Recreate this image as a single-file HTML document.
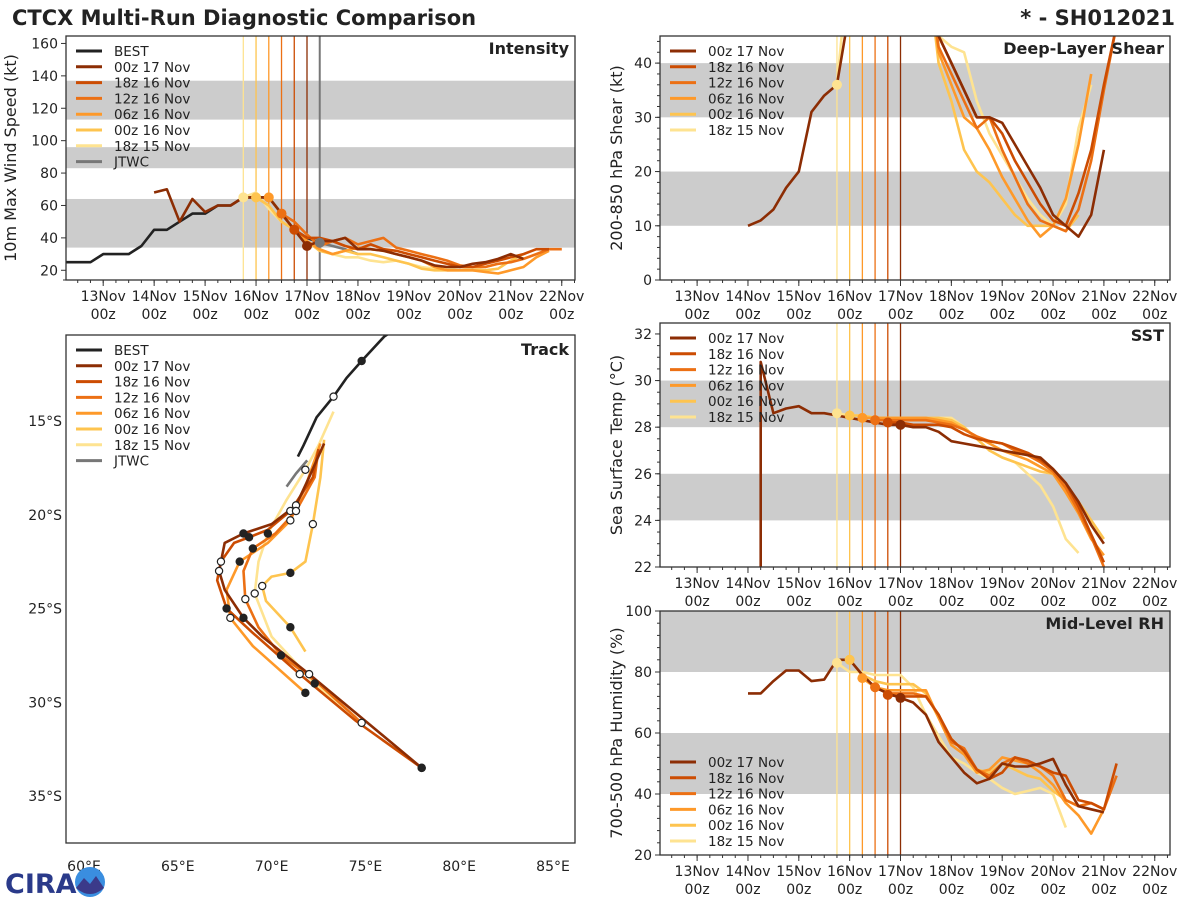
<!DOCTYPE html>
<html><head><meta charset="utf-8">
<style>
html,body{margin:0;padding:0;background:#fff;}
svg{display:block;font-family:"DejaVu Sans","Liberation Sans",sans-serif;}
</style></head>
<body>
<svg id="fig" width="1200" height="900" viewBox="0 0 1200 900">
<defs>
<clipPath id="cpI"><rect x="66" y="36" width="509" height="244"/></clipPath>
<clipPath id="cpS"><rect x="660" y="36" width="510" height="244"/></clipPath>
<clipPath id="cpT"><rect x="660" y="323" width="510" height="244"/></clipPath>
<clipPath id="cpR"><rect x="660" y="611" width="510" height="244"/></clipPath>
<clipPath id="cpK"><rect x="66" y="335" width="509" height="508"/></clipPath>
</defs>
<text x="12" y="25" font-size="21" font-weight="bold" fill="#222">CTCX Multi-Run Diagnostic Comparison</text>
<text x="1175" y="25" font-size="21" font-weight="bold" fill="#222" text-anchor="end">* - SH012021</text>
<g id="root"></g>
</svg>
<script>
// ---------- data ----------
const runNames = ["00z 17 Nov","18z 16 Nov","12z 16 Nov","06z 16 Nov","00z 16 Nov","18z 15 Nov"];
const runInit = [5.0,4.75,4.5,4.25,4.0,3.75];
const dayLabels = ["13Nov","14Nov","15Nov","16Nov","17Nov","18Nov","19Nov","20Nov","21Nov","22Nov"];
const dayTicks = [1,2,3,4,5,6,7,8,9,10];

const bestStart = 0.25;
const bestVmax = [25,25,25,30,30,30,35,45,45,50,55,55,60,60,65,65,65,55,45,40,37];
const jtwcStart = 5.25;
const jtwcVmax = [37,35,33,30];

const vmaxStarts = [2.0,4.75,4.5,4.25,4.0,3.75];
const vmax0 = [68,70,50,64,56,60,60,65,65,65,55,45,35,38,38,40,33,33,32,30,28,26,23,22,22,24,25,27,30,27];
const vmax1 = [45,40,40,38,35,33,36,33,32,30,28,26,24,22,22,24,26,28,30,33,33];
const vmax2 = [55,50,42,35,38,40,36,38,40,34,32,30,28,26,23,22,22,24,25,27,30,33,33];
const vmax3 = [65,55,45,38,33,30,32,34,33,32,30,28,26,22,20,20,20,19,18,20,22,28,32];
const vmax4 = [65,60,50,45,38,32,30,32,30,30,28,26,24,21,20,20,20,20,20,21,26,30];
const vmax5 = [65,68,58,50,45,38,32,30,28,28,26,25,26,24,22,21,21,22,21,22,24];

const shearStarts = [2.0,4.75,4.5,4.25,4.0,3.75];
const shear0 = [10,11,13,17,20,31,34,36,50,60,60,60,60,60,55,45,40,35,30,30,29,25,21,17,12,10,8,12,24];
const shear1 = [60,60,60,60,45,40,35,30,30,27,22,18,14,11,10,16,24,36,47];
const shear2 = [60,60,60,60,60,43,38,33,28,30,24,19,14,11,10,9,13,22,35,47];
const shear3 = [60,60,60,60,60,60,42,36,30,28,24,19,15,11,8,10,15,25,38];
const shear4 = [60,60,60,60,60,60,60,40,33,24,20,18,15,12,10,10,10,9,12];
const shear5 = [36,60,60,60,60,60,60,60,45,43,42,33,27,23,19,15,12,10,14,28,36];

const sstStarts = [2.25,4.75,4.5,4.25,4.0,3.75];
const sst0 = [30.8,28.6,28.8,28.9,28.6,28.6,28.5,28.4,28.3,28.2,28.1,28.1,28.0,28.0,27.8,27.4,27.3,27.2,27.1,27.0,26.9,26.8,26.7,26.2,25.6,24.8,23.8,23.0];
const sst1 = [28.2,28.2,28.1,28.1,28.1,28.0,27.7,27.5,27.4,27.3,27.1,26.9,26.6,26.2,25.6,24.6,23.4,22.2];
const sst2 = [28.3,28.3,28.3,28.3,28.3,28.2,28.1,27.9,27.6,27.4,27.3,27.0,26.8,26.5,26.1,25.4,24.4,23.3,22.0];
const sst3 = [28.4,28.4,28.4,28.4,28.4,28.4,28.3,28.2,27.9,27.6,27.3,27.0,26.8,26.6,26.3,26.0,25.2,24.3,23.2,22.5];
const sst4 = [28.5,28.5,28.4,28.4,28.4,28.4,28.4,28.4,28.3,28.0,27.5,27.0,26.7,26.5,26.3,26.1,26.0,25.5,24.8,24.0,23.2];
const sst5 = [28.6,28.5,28.5,28.4,28.4,28.4,28.4,28.3,28.4,28.4,28.0,27.5,27.0,26.7,26.5,26.0,25.5,24.6,23.2,22.6];

const rhStarts = [2.0,4.75,4.5,4.25,4.0,3.75];
const rh0 = [73,73,77,80.5,80.5,77,77.5,84,84,79,75,73,71.5,70,66,57,52,47,43.5,45,50,49,49,50,51.5,43,36,35,34];
const rh1 = [72.5,72,72,72,66,58,54,48,45,47,52,51,49,47,46,38,37,35,50];
const rh2 = [75,73,73,73,72,66,57,55,48,46,50,52,50,49,46,38,36,37,35,46];
const rh3 = [78,75,74,74,74,74,65,56,53,47,48,52,51,50,47,43,37,33,27,35];
const rh4 = [84,79,77,76,76,76,73,65,58,54,48,47,50,48,46,45,41,38,36,37];
const rh5 = [83,80,80,79,79,79,75,66,59,52,50,47,45,42,40,41,42,40,29];

const bestLon = [76.6,76.0,74.8,74.0,73.3,72.4,71.7,71.4];
const bestLat = [-10.1,-10.5,-11.8,-12.7,-13.7,-14.8,-16.3,-16.9];
const jtwcLon = [71.9,71.3,70.8];
const jtwcLat = [-17.1,-17.8,-18.5];
const trkLon0 = [72.8,72.0,71.3,70.0,68.5,67.5,67.2,67.5,68.5,69.5,72.0,75.0,78.0];
const trkLat0 = [-16.2,-18.0,-19.5,-20.5,-21.0,-21.5,-23.0,-24.0,-25.5,-26.5,-28.5,-31.0,-33.5];
const trkLon1 = [72.5,72.2,71.0,69.8,68.8,68.0,67.3,67.1,67.6,69.0,71.5,74.5,78.0];
const trkLat1 = [-16.5,-18.0,-19.8,-20.8,-21.2,-21.5,-22.5,-23.5,-25.0,-26.3,-28.5,-31.0,-33.5];
const trkLon2 = [72.5,72.3,71.3,70.2,69.0,68.5,68.6,69.3,70.5,72.5,74.8];
const trkLat2 = [-16.5,-18.0,-19.8,-21.0,-21.8,-23.0,-24.5,-26.0,-27.5,-29.0,-31.1];
const trkLon3 = [72.6,71.8,71.0,69.8,68.3,67.6,67.8,69.0,71.8];
const trkLat3 = [-16.2,-18.5,-20.3,-21.5,-22.5,-24.0,-25.5,-27.0,-29.5];
const trkLon4 = [72.8,72.6,72.2,71.8,71.0,70.0,69.5,69.7,71.0,71.8];
const trkLat4 = [-16.0,-18.0,-20.5,-22.5,-23.1,-23.3,-23.8,-24.6,-26.0,-27.3];
const trkLon5 = [73.3,72.5,71.8,70.8,69.8,69.3,69.1,70.0,72.3,74.5];
const trkLat5 = [-14.5,-16.3,-17.6,-19.2,-21.0,-22.5,-24.2,-26.5,-29.0,-30.8];

const colors = ["#8c2d04","#cc4c02","#ec7014","#fe9929","#fec44f","#fee391"];
// ---------- helpers ----------
const NS="http://www.w3.org/2000/svg";
const root=document.getElementById('root');
function mk(tag,attrs,parent){const e=document.createElementNS(NS,tag);for(const k in attrs)e.setAttribute(k,attrs[k]);(parent||root).appendChild(e);return e;}
function line(x1,y1,x2,y2,st,w,p){return mk('line',{x1:x1,y1:y1,x2:x2,y2:y2,stroke:st,'stroke-width':w},p);}
function txt(x,y,s,size,anchor,p){const t=mk('text',{x:x,y:y,'font-size':size,'text-anchor':anchor||'start',fill:'#222'},p);t.textContent=s;return t;}

function timePanel(P){
  const xs=t=>P.x0+(t-P.t0)/(P.t1-P.t0)*P.w;
  const ys=v=>P.y0+P.h-(v-P.v0)/(P.v1-P.v0)*P.h;
  const g=mk('g',{});
  
  
  P.bands.forEach(b=>{const r=mk('rect',{x:P.x0,y:ys(b[1]),width:P.w,height:ys(b[0])-ys(b[1]),fill:'#cccccc'},g);
    
    });
  runInit.forEach((t,i)=>{const l=line(xs(t),P.y0,xs(t),P.y0+P.h,colors[i],1.3,g);
    
    });
  if(P.jtwcLine){const l=line(xs(5.25),P.y0,xs(5.25),P.y0+P.h,'#777',2,g);
    
    }
  const cg=mk('g',{'clip-path':'url(#'+P.clip+')'},g);
  const series=P.series;
  for(let i=series.length-1;i>=0;i--){
    const s=series[i];
    let pts=s.vals.map((v,k)=>xs(s.start+k*0.25).toFixed(1)+','+ys(v).toFixed(1)).join(' ');
    if(s.dropFrom!==undefined){pts=xs(s.start).toFixed(1)+','+ys(s.dropFrom).toFixed(1)+' '+pts;}
    const pl=mk('polyline',{points:pts,fill:'none',stroke:s.color,'stroke-width':2.6,'stroke-linejoin':'round'},cg);
    
    
  }
  series.forEach(s=>{ if(s.dot){const v=s.vals[s.dotIdx||0];
    if(v>=P.v0&&v<=P.v1){const c=mk('circle',{cx:xs(s.start+(s.dotIdx||0)*0.25),cy:ys(v),r:5,fill:s.color},cg);
    
    }}});
  const fr=mk('rect',{x:P.x0,y:P.y0,width:P.w,height:P.h,fill:'none',stroke:'#333','stroke-width':1.3},g);
  
  
  P.yticks.forEach(v=>{line(P.x0-5,ys(v),P.x0,ys(v),'#333',1,g);
    const t=txt(P.x0-8,ys(v)+5,String(v),14,'end',g);
    
    });
  for(let v=P.v0;v<=P.v1;v+=P.minor){line(P.x0-3,ys(v),P.x0,ys(v),'#333',1,g);}
  for(let t=Math.ceil(P.t0*4)/4;t<=P.t1;t+=0.25){line(xs(t),P.y0+P.h,xs(t),P.y0+P.h+3,'#333',1,g);}
  dayTicks.forEach((t,i)=>{line(xs(t),P.y0+P.h,xs(t),P.y0+P.h+6,'#333',1,g);
    const a=txt(xs(t),P.y0+P.h+21,dayLabels[i],14,'middle',g);
    
    
    const b=txt(xs(t),P.y0+P.h+39,'00z',14,'middle',g);
    
    });
  const yl=txt(0,0,P.ylabel,16,'middle',g);
  yl.setAttribute('transform','translate('+P.ylx+','+(P.y0+P.h/2)+') rotate(-90)');
  
  
  const pt=txt(P.x0+P.w-6,P.y0+18,P.title,16,'end',g);
  pt.setAttribute('font-weight','bold');
  
  
  legend(P.x0+10,P.y0+15+(P.legOff||0),P.legend,g);
}
function legend(x,y,items,g){
  items.forEach((it,i)=>{const yy=y+i*15.8;
    const l=line(x,yy,x+26,yy,it[1],3,g);
    
    
    const t=txt(x+38,yy+5,it[0],13.5,'start',g);
    
    });
}
const runLegend=runNames.map((n,i)=>[n,colors[i]]);
const fullLegend=[["BEST","#222"]].concat(runLegend).concat([["JTWC","#777"]]);
function mkSeries(starts,arrs){return arrs.map((a,i)=>({start:starts[i],vals:a,color:colors[i],name:'run-'+runNames[i].replace(/ /g,'-').toLowerCase(),dot:true,dotIdx:Math.round((runInit[i]-starts[i])/0.25)}));}

const intSeries=mkSeries(vmaxStarts,[vmax0,vmax1,vmax2,vmax3,vmax4,vmax5]);
intSeries.push({start:jtwcStart,vals:jtwcVmax,color:'#777',name:'jtwc-intensity',dot:true,dotIdx:0});
intSeries.push({start:bestStart,vals:bestVmax,color:'#222',name:'best-intensity',dot:false});
timePanel({name:'intensity-panel',x0:66,y0:36,w:509,h:244,t0:0.27,t1:10.26,v0:14,v1:164.6,
  bands:[[34,64],[83,96],[113,137]],yticks:[20,40,60,80,100,120,140,160],minor:200,
  series:intSeries,ylabel:'10m Max Wind Speed (kt)',ylx:16,title:'Intensity',legend:fullLegend,clip:'cpI',jtwcLine:true});
timePanel({name:'shear-panel',x0:660,y0:36,w:510,h:244,t0:0.27,t1:10.3,v0:0,v1:45,
  bands:[[10,20],[30,40]],yticks:[0,10,20,30,40],minor:2,
  series:mkSeries(shearStarts,[shear0,shear1,shear2,shear3,shear4,shear5]),ylabel:'200-850 hPa Shear (kt)',ylx:622,title:'Deep-Layer Shear',legend:runLegend,clip:'cpS'});
const sstSeries=mkSeries(sstStarts,[sst0,sst1,sst2,sst3,sst4,sst5]);
sstSeries[0].dropFrom=21;
timePanel({name:'sst-panel',x0:660,y0:323,w:510,h:244,t0:0.27,t1:10.3,v0:22,v1:32.47,
  bands:[[24,26],[28,30]],yticks:[22,24,26,28,30,32],minor:0.5,
  series:sstSeries,ylabel:'Sea Surface Temp (°C)',ylx:622,title:'SST',legend:runLegend,clip:'cpT'});
timePanel({name:'rh-panel',x0:660,y0:611,w:510,h:244,t0:0.27,t1:10.3,v0:20,v1:100,
  bands:[[40,60],[80,100]],yticks:[20,40,60,80,100],minor:4,
  series:mkSeries(rhStarts,[rh0,rh1,rh2,rh3,rh4,rh5]),ylabel:'700-500 hPa Humidity (%)',ylx:622,title:'Mid-Level RH',legend:runLegend,clip:'cpR',legOff:136});

// Track
(function(){
  const x0=66,y0=335,w=509,h=508;
  const lx=lon=>84+(lon-60)*18.76;
  const ly=lat=>421+(-15-lat)*18.75;
  const g=mk('g',{});
  
  
  const cg=mk('g',{'clip-path':'url(#cpK)'},g);
  const tr=[[trkLon0,trkLat0],[trkLon1,trkLat1],[trkLon2,trkLat2],[trkLon3,trkLat3],[trkLon4,trkLat4],[trkLon5,trkLat5]];
  for(let i=tr.length-1;i>=0;i--){
    const pts=tr[i][0].map((lo,k)=>lx(lo).toFixed(1)+','+ly(tr[i][1][k]).toFixed(1)).join(' ');
    const pl=mk('polyline',{points:pts,fill:'none',stroke:colors[i],'stroke-width':2.6,'stroke-linejoin':'round'},cg);
    
    
  }
  const bp=bestLon.map((lo,k)=>lx(lo).toFixed(1)+','+ly(bestLat[k]).toFixed(1)).join(' ');
  const b=mk('polyline',{points:bp,fill:'none',stroke:'#222','stroke-width':2.6},cg);
  
  
  const jp=jtwcLon.map((lo,k)=>lx(lo).toFixed(1)+','+ly(jtwcLat[k]).toFixed(1)).join(' ');
  const j=mk('polyline',{points:jp,fill:'none',stroke:'#777','stroke-width':2.6},cg);
  
  
  tr.forEach(t=>{t[0].forEach((lo,k)=>{if(k>0&&k%2==0){const c=mk('circle',{cx:lx(lo),cy:ly(t[1][k]),r:3.6,fill:(k%4==0)?'#222':'#fff',stroke:'#222','stroke-width':1.2},cg);
    
    }});});
  bestLon.forEach((lo,k)=>{if(k==2||k==4){const c=mk('circle',{cx:lx(lo),cy:ly(bestLat[k]),r:3.6,fill:k==2?'#222':'#fff',stroke:'#222','stroke-width':1.2},cg);
    
    }});
  const fr=mk('rect',{x:x0,y:y0,width:w,height:h,fill:'none',stroke:'#333','stroke-width':1.3},g);
  
  
  [60,65,70,75,80,85].forEach(lo=>{const t=txt(lx(lo),871,lo+'°E',14,'middle',g);
    
    });
  [15,20,25,30,35].forEach(la=>{const t=txt(62,ly(-la)+5,la+'°S',14,'end',g);
    
    });
  const pt=txt(569,355,'Track',16,'end',g);
  pt.setAttribute('font-weight','bold');
  
  
  legend(76,350,fullLegend,g);
})();
// logo
(function(){
  const g=mk('g',{});
  
  
  const t=txt(5,893,'CIRA',27,'start',g);
  t.setAttribute('fill','#2a3a8a');
  t.setAttribute('font-weight','bold');
  
  
  const c=mk('circle',{cx:90,cy:882,r:15,fill:'#3a8ee0'},g);
  
  
  const m=mk('path',{d:'M76,888 L84,878 L90,884 L96,876 L104,888 Q90,900 76,888Z',fill:'#3b3a8a'},g);
  
  
})();
</script>
</body></html>
